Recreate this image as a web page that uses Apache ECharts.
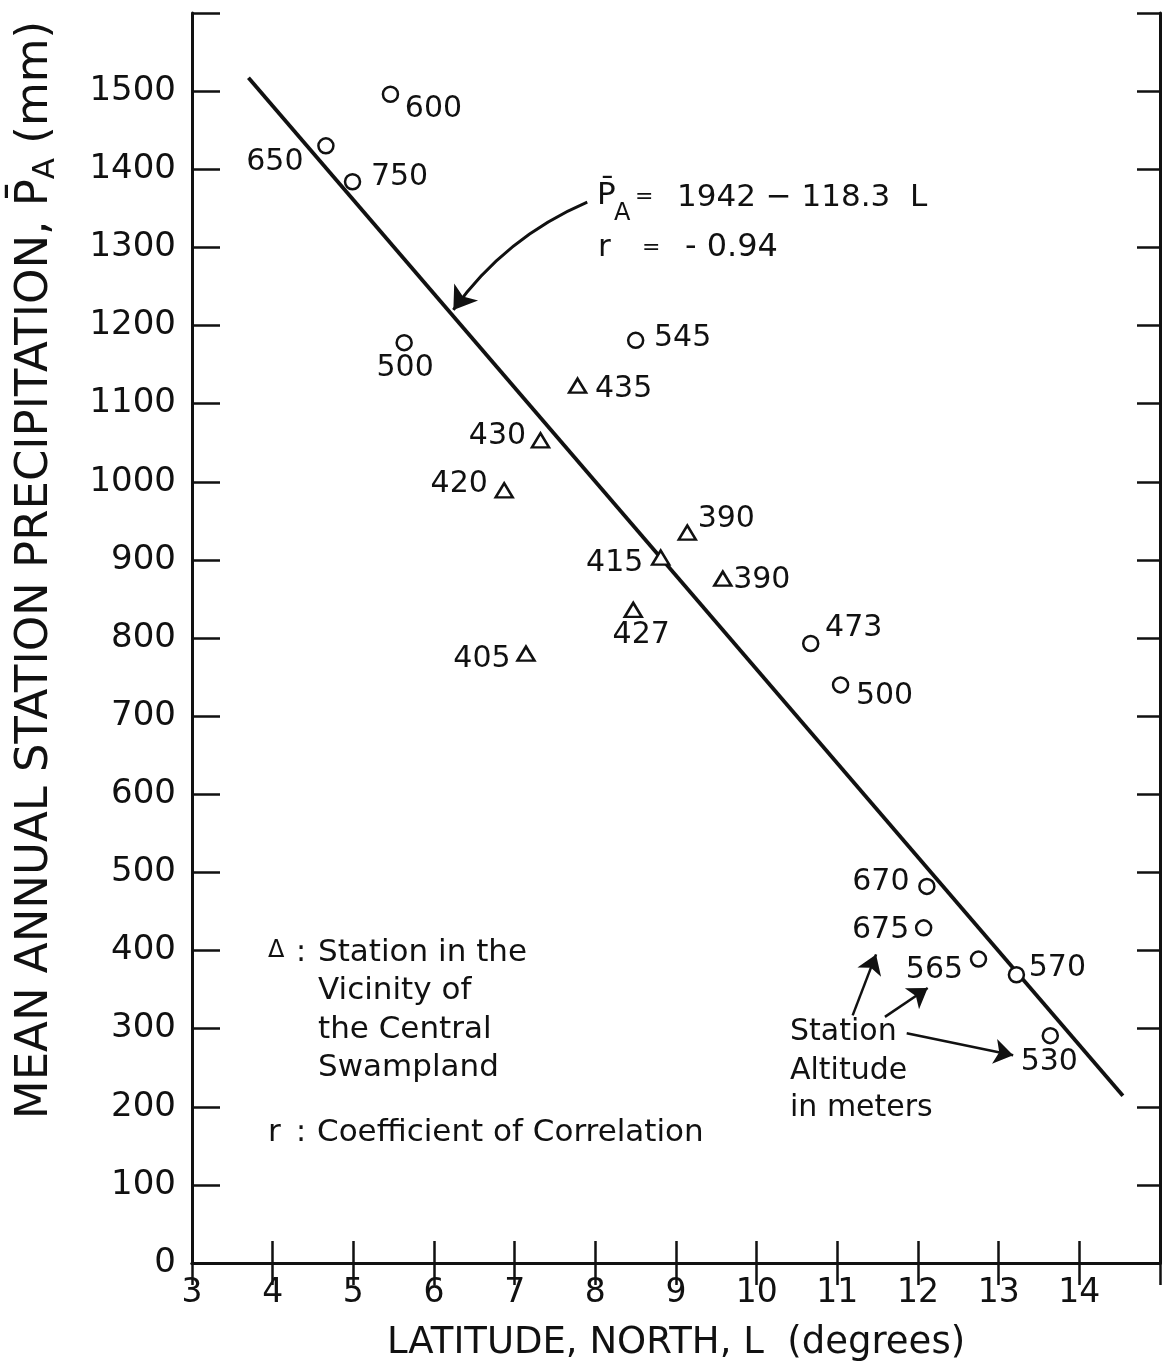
<!DOCTYPE html>
<html><head><meta charset="utf-8">
<script src="https://cdn.jsdelivr.net/npm/echarts@6/dist/echarts.min.js"></script>
<style>html,body{margin:0;padding:0;background:#fff}#c{width:1162px;height:1368px}</style>
</head><body><div id="c"></div>
<script>
// ---- data ----
const xTicks = [3,4,5,6,7,8,9,10,11,12,13,14];
const yTicks = [0,100,200,300,400,500,600,700,800,900,1000,1100,1200,1300,1400,1500];

// circles: stations (altitude in m as label)
const circleLat    = [5.46, 4.66, 4.99, 5.63, 8.50, 10.67, 11.04, 12.11, 12.07, 12.75, 13.22, 13.64];
const circlePrecip = [1496, 1430, 1384, 1178, 1181, 793, 740, 482, 429, 389, 369, 291];
const circleAlt    = ['600','650','750','500','545','473','500','670','675','565','570','530'];

// triangles: stations in the vicinity of the central swampland
const triLat    = [7.78, 7.32, 6.87, 9.14, 8.81, 9.58, 8.47, 7.14];
const triPrecip = [1123, 1053, 989, 935, 903, 876, 836, 780];
const triAlt    = ['435','430','420','390','415','390','427','405'];

// regression line as drawn
const lineLat    = [3.70, 14.54];
const linePrecip = [1517, 214];

// annotation arrows (data coordinates: [lat, precip] from -> to)
const altArrows = [
  [[11.19,317],[11.48,395]],
  [[11.59,315],[12.12,352]],
  [[11.86,294],[13.18,266]]
];
const eqArrow = [[7.90,1358],[6.24,1220]];

// ---- label layout (pixel offsets from each marker) ----
const circleLabelOffsets = [[43,15],[-51,16],[47,-5],[1,26],[47,-2],[43,-15],[44,11],[-46,-4],[-43,2],[-44,11],[41,-7],[-1,27]];
const triLabelOffsets    = [[46,4],[-43,-4],[-45,-6],[39,-13],[-46,6],[39,2],[8,25],[-44,6]];

const FONT = 'DejaVu Sans';
const INK = '#111';

const chart = echarts.init(document.getElementById('c'), null, {renderer:'canvas'});

const circleData = circleLat.map((x,i)=>({name:circleAlt[i], value:[x, circlePrecip[i]], label:{offset:circleLabelOffsets[i]}}));
const triData = triLat.map((x,i)=>({name:triAlt[i], value:[x, triPrecip[i]], label:{offset:triLabelOffsets[i]}}));
const lineData = lineLat.map((x,i)=>[x, linePrecip[i]]);

const ptLabel = {show:true, position:'inside', formatter:'{b}', fontSize:30, fontFamily:FONT, color:INK};

const axisCommon = {
  axisLine:{show:true, lineStyle:{color:INK, width:3}},
  splitLine:{show:false},
};

const option = {
  animation:false,
  backgroundColor:'#fff',
  textStyle:{fontFamily:FONT, color:INK},
  grid:{left:192, right:2, top:13, bottom:105, outerBoundsMode:'none', containLabel:false},
  xAxis:[
    Object.assign({type:'value', min:3, max:15, interval:1, position:'bottom',
      axisTick:{show:true, inside:true, length:22, lineStyle:{color:INK, width:2.5}},
      axisLabel:{show:true, fontSize:33, fontFamily:FONT, color:INK, margin:14,
        formatter:v=> xTicks.indexOf(v)>=0 ? String(v) : ''},
      name:'LATITUDE, NORTH, L  (degrees)', nameLocation:'middle', nameGap:62,
      nameTextStyle:{fontSize:37, fontFamily:FONT, color:INK}
    }, axisCommon),
    Object.assign({type:'value', min:3, max:15, interval:1, position:'top',
      axisTick:{show:true, inside:true, length:22, lineStyle:{color:INK, width:2.5}},
      axisLabel:{show:false}
    }, axisCommon)
  ],
  yAxis:[
    Object.assign({type:'value', min:0, max:1600, interval:100, position:'left',
      axisTick:{show:true, inside:true, length:28, lineStyle:{color:INK, width:2.5}},
      axisLabel:{show:true, fontSize:34, fontFamily:FONT, color:INK, margin:16,
        formatter:v=> yTicks.indexOf(v)>=0 ? String(v) : ''}
    }, axisCommon),
    Object.assign({type:'value', min:0, max:1600, interval:100, position:'right',
      axisTick:{show:true, inside:true, length:23, lineStyle:{color:INK, width:2.5}},
      axisLabel:{show:false}
    }, axisCommon)
  ],
  series:[
    {type:'line', data:lineData, symbol:'none', silent:true,
     lineStyle:{color:INK, width:3.8}, emphasis:{disabled:true}, z:2},
    {type:'scatter', data:circleData, symbol:'circle', symbolSize:15, z:3,
     itemStyle:{color:'#fff', borderColor:INK, borderWidth:2.5, opacity:1},
     label:ptLabel, emphasis:{disabled:true}, silent:true},
    {type:'scatter', data:triData, symbol:'triangle', symbolSize:[17,14], z:3,
     itemStyle:{color:'#fff', borderColor:INK, borderWidth:2.5, opacity:1},
     label:ptLabel, emphasis:{disabled:true}, silent:true},
    {type:'lines', coordinateSystem:'cartesian2d', silent:true, z:4,
     symbol:['none','arrow'], symbolSize:[10,19],
     lineStyle:{color:INK, width:2.5, opacity:1, curveness:0},
     emphasis:{disabled:true},
     data: altArrows.map(a=>({coords:a}))},
    {type:'lines', coordinateSystem:'cartesian2d', silent:true, z:4,
     symbol:['none','arrow'], symbolSize:[12,22],
     lineStyle:{color:INK, width:3, opacity:1, curveness:-0.14},
     emphasis:{disabled:true},
     data: [{coords:eqArrow}]}
  ],
  graphic:[
    // y axis title (rotated)
    {type:'text', x:35, y:570, rotation:Math.PI/2, silent:true,
     style:{text:'{t|MEAN ANNUAL STATION PRECIPITATION, P\u0304}{s|A}{t| (mm)}',
       align:'center', verticalAlign:'middle',
       rich:{t:{fontSize:45, fontFamily:FONT, fill:INK, lineHeight:52, verticalAlign:'middle'},
             s:{fontSize:31, fontFamily:FONT, fill:INK, lineHeight:31, verticalAlign:'bottom'}}}},
    // regression formula
    {type:'text', x:597, y:196, silent:true, style:{text:'P\u0304', fontSize:31, fontFamily:FONT, fill:INK, verticalAlign:'middle'}},
    {type:'text', x:614, y:214, silent:true, style:{text:'A', fontSize:24, fontFamily:FONT, fill:INK, verticalAlign:'middle'}},
    {type:'text', x:635, y:197, silent:true, style:{text:'=', fontSize:22, fontFamily:FONT, fill:INK, verticalAlign:'middle'}},
    {type:'text', x:677, y:198, silent:true, style:{text:'1942 \u2212 118.3  L', fontSize:31, fontFamily:FONT, fill:INK, verticalAlign:'middle'}},
    {type:'text', x:598, y:248, silent:true, style:{text:'r', fontSize:31, fontFamily:FONT, fill:INK, verticalAlign:'middle'}},
    {type:'text', x:642, y:248, silent:true, style:{text:'=', fontSize:22, fontFamily:FONT, fill:INK, verticalAlign:'middle'}},
    {type:'text', x:685, y:248, silent:true, style:{text:'- 0.94', fontSize:32, fontFamily:FONT, fill:INK, verticalAlign:'middle'}},
    // legend block
    {type:'text', x:268, y:951, silent:true, style:{text:'\u0394', fontSize:24, fontFamily:FONT, fill:INK, verticalAlign:'middle'}},
    {type:'text', x:296, y:953, silent:true, style:{text:':', fontSize:30, fontFamily:FONT, fill:INK, verticalAlign:'middle'}},
    {type:'text', x:318, y:953, silent:true, style:{text:'Station in the', fontSize:31, fontFamily:FONT, fill:INK, verticalAlign:'middle'}},
    {type:'text', x:318, y:991, silent:true, style:{text:'Vicinity of', fontSize:31, fontFamily:FONT, fill:INK, verticalAlign:'middle'}},
    {type:'text', x:318, y:1030, silent:true, style:{text:'the Central', fontSize:31, fontFamily:FONT, fill:INK, verticalAlign:'middle'}},
    {type:'text', x:318, y:1068, silent:true, style:{text:'Swampland', fontSize:31, fontFamily:FONT, fill:INK, verticalAlign:'middle'}},
    {type:'text', x:268, y:1133, silent:true, style:{text:'r', fontSize:31, fontFamily:FONT, fill:INK, verticalAlign:'middle'}},
    {type:'text', x:296, y:1133, silent:true, style:{text:':', fontSize:30, fontFamily:FONT, fill:INK, verticalAlign:'middle'}},
    {type:'text', x:317, y:1133, silent:true, style:{text:'Coefficient of Correlation', fontSize:31, fontFamily:FONT, fill:INK, verticalAlign:'middle'}},
    // station altitude note
    {type:'text', x:790, y:1032, silent:true, style:{text:'Station', fontSize:30, fontFamily:FONT, fill:INK, verticalAlign:'middle'}},
    {type:'text', x:790, y:1071, silent:true, style:{text:'Altitude', fontSize:30, fontFamily:FONT, fill:INK, verticalAlign:'middle'}},
    {type:'text', x:790, y:1108, silent:true, style:{text:'in meters', fontSize:30, fontFamily:FONT, fill:INK, verticalAlign:'middle'}}
  ]
};
chart.setOption(option);
</script>
</body></html>
